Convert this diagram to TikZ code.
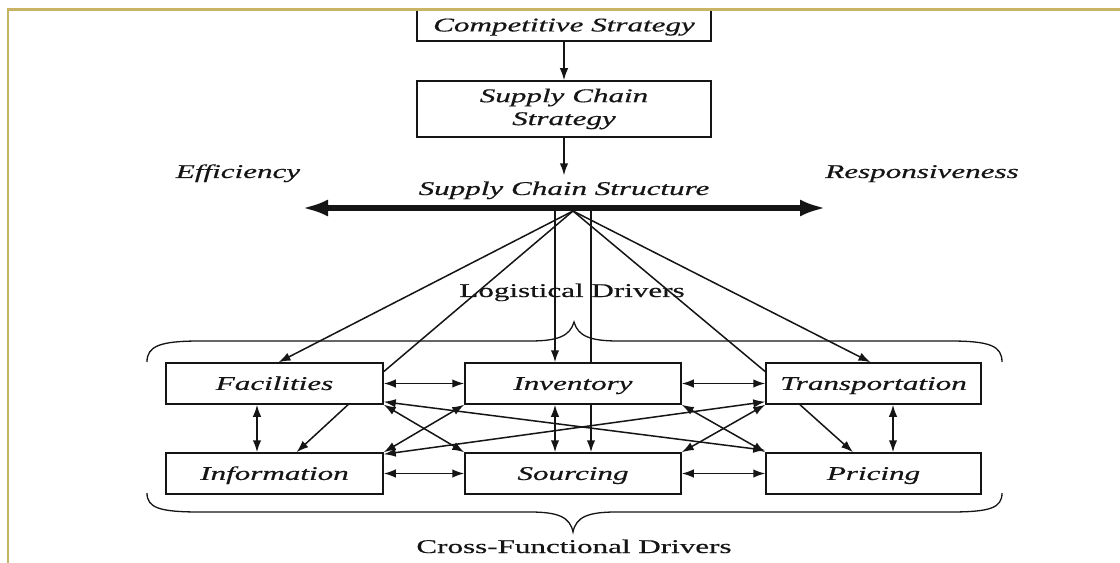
\documentclass[tikz,border=0pt]{standalone}
\usepackage{fontspec}
\setmainfont{Liberation Serif}[FakeBold=0.4]
\usepackage{graphicx}
\usetikzlibrary{arrows.meta,calc,backgrounds}
\newcommand\sx[1]{\scalebox{1.6}[1]{#1}}
\definecolor{gold}{HTML}{C8B464}
\definecolor{ink}{HTML}{151515}
\begin{document}
\begin{tikzpicture}[x=1bp,y=-1bp,
  box/.style={draw=ink, fill=white, line width=1.5bp, inner sep=0pt,
    font=\fontsize{19.5}{23}\selectfont\itshape, text=ink},
  one/.style={text height=12.9bp, text depth=0bp},
  lbl/.style={inner sep=0pt, font=\fontsize{19.5}{23}\selectfont\itshape, text=ink, anchor=base},
  ulbl/.style={inner sep=0pt, font=\fontsize{19.5}{23}\selectfont\upshape, text=ink, anchor=base},
  conn/.style={draw=ink, line width=1.5bp},
  arr/.style={conn, -{Latex[length=12bp,width=8.5bp]}},
  darr/.style={conn, {Latex[length=12bp,width=8.5bp]}-{Latex[length=12bp,width=8.5bp]}},
  bigarr/.style={draw=ink, line width=5.5bp, {Latex[length=26bp,width=17bp]}-{Latex[length=26bp,width=17bp]}},
  bracestyle/.style={draw=ink, line width=1.3bp}]

\useasboundingbox (0,0) rectangle (1120,563);

% top boxes
\node[box, one, minimum width=294bp, minimum height=32bp] (cs) at (564,25) {\sx{Competitive Strategy}};
\node[box, minimum width=294bp, minimum height=56bp, align=center] (scs) at (564,109) {\sx{Supply Chain}\\\sx{Strategy}};
\node[lbl] (scstr) at (564,195) {\sx{Supply Chain Structure}};
\node[lbl] (eff) at (238,178) {\sx{Efficiency}};
\node[lbl] (resp) at (922,178) {\sx{Responsiveness}};

\draw[arr] (cs.south) -- (scs.north);
\draw[arr] (scs.south) -- ([yshift=6bp]scstr.north);

% thick axis
\coordinate (L) at (302,208);
\coordinate (R) at (826,208);
\draw[bigarr] (L) -- (R);

% driver boxes
\node[box, one, minimum width=217bp, minimum height=41bp] (fac) at (274.5,383.5) {\sx{Facilities}};
\node[box, one, minimum width=216bp, minimum height=41bp] (inv) at (573,383.5) {\sx{Inventory}};
\node[box, one, minimum width=215bp, minimum height=41bp] (tra) at (873.5,383.5) {\sx{Transportation}};
\node[box, one, minimum width=217bp, minimum height=41bp] (inf) at (274.5,473.5) {\sx{Information}};
\node[box, one, minimum width=216bp, minimum height=41bp] (sou) at (573,473.5) {\sx{Sourcing}};
\node[box, one, minimum width=215bp, minimum height=41bp] (pri) at (873.5,473.5) {\sx{Pricing}};

\node[ulbl] (log) at (572,297) {\sx{Logistical Drivers}};
\node[ulbl] (cross) at (574,553) {\sx{Cross-Functional Drivers}};

% fan from structure
\coordinate (apex) at (573,211);
\coordinate (v1) at (555,211);
\coordinate (v2) at (591,211);
\draw[arr] (apex) -- ([xshift=4bp]fac.north);
\draw[conn] (apex) -- ($(fac.north east)!0.22!(fac.south east)$);
\draw[arr] (v1) -- (v1 |- inv.north);
\draw[conn] (apex) -- ($(tra.north west)!0.22!(tra.south west)$);
\draw[arr] (apex) -- ([xshift=-3bp]tra.north);

\begin{pgfonlayer}{background}
\fill[white] (0,0) rectangle (1120,563);
\draw[arr] (v2) -- (v2 |- sou.north);
\end{pgfonlayer}

% horizontal links
\draw[darr] (fac.east) -- (inv.west);
\draw[darr] (inv.east) -- (tra.west);
\draw[darr] (inf.east) -- (sou.west);
\draw[darr] (sou.east) -- (pri.west);

% vertical links
\draw[darr] ([xshift=-17.5bp]fac.south) -- ([xshift=-17.5bp]inf.north);
\draw[darr] (inv.south -| v1) -- (sou.north -| v1);
\draw[darr] ([xshift=19.5bp]tra.south) -- ([xshift=19.5bp]pri.north);

% diagonal single arrows
\draw[arr] ([xshift=73.5bp]fac.south) -- ([xshift=22bp]inf.north);
\draw[arr] ([xshift=-73.5bp]tra.south) -- ([xshift=-20.5bp]pri.north);

% crosses
\draw[darr] (fac.south east) -- (sou.north west);
\draw[darr] (inv.south west) -- (inf.north east);
\draw[darr] (inv.south east) -- (pri.north west);
\draw[darr] (sou.north east) -- (tra.south west);

% long links
\draw[darr] ([yshift=3bp]fac.south east) -- ([yshift=2bp]pri.north west);
\draw[darr] ([yshift=-2bp]inf.north east) -- ([yshift=3bp]tra.south west);

% braces
\draw[bracestyle] (147,362) .. controls (147,346) and (160,341) .. (200,341) -- (530,341)
  .. controls (558,341) and (570,336) .. (574,322)
  .. controls (578,336) and (590,341) .. (618,341) -- (950,341)
  .. controls (990,341) and (1002,346) .. (1002,362);
\draw[bracestyle] (147,493) .. controls (147,508) and (160,512) .. (200,512) -- (530,512)
  .. controls (558,512) and (570,517) .. (573,532)
  .. controls (576,517) and (588,512) .. (616,512) -- (950,512)
  .. controls (990,512) and (1002,508) .. (1002,493);

% frame
\draw[gold, line width=2.5bp] (8,563) -- (8,9.5) -- (1120,9.5);
\end{tikzpicture}
\end{document}
